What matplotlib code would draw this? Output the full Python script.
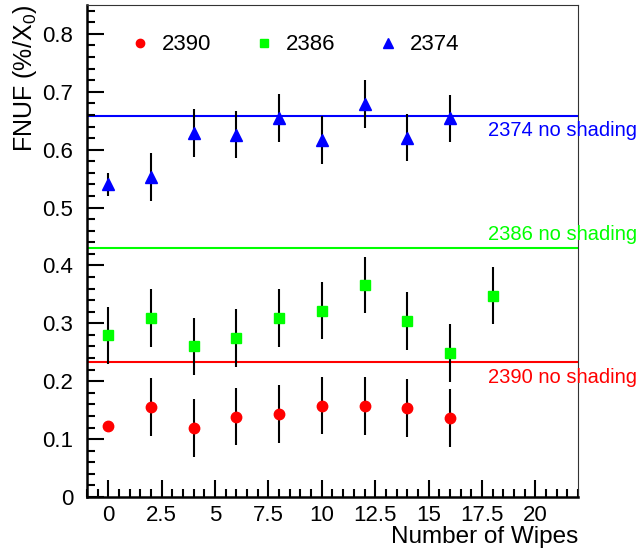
import matplotlib
matplotlib.use("Agg")
import matplotlib.pyplot as plt
from matplotlib.ticker import MultipleLocator, FormatStrFormatter

plt.rcParams['font.family'] = ['Liberation Sans', 'DejaVu Sans']
plt.rcParams['mathtext.fontset'] = 'custom'
plt.rcParams['mathtext.rm'] = 'Liberation Sans'

# run 2390 (red circles)
wipes_2390 = [0, 2, 4, 6, 8, 10, 12, 14, 16]
fnuf_2390 = [0.122, 0.155, 0.119, 0.139, 0.143, 0.158, 0.157, 0.153, 0.137]
err_2390 = [0.005, 0.050, 0.050, 0.050, 0.050, 0.050, 0.050, 0.050, 0.050]

# run 2386 (green squares)
wipes_2386 = [0, 2, 4, 6, 8, 10, 12, 14, 16, 18]
fnuf_2386 = [0.279, 0.309, 0.260, 0.274, 0.309, 0.322, 0.366, 0.304, 0.248, 0.348]
err_2386 = [0.050, 0.050, 0.050, 0.050, 0.050, 0.049, 0.049, 0.050, 0.050, 0.050]

# run 2374 (blue triangles)
wipes_2374 = [0, 2, 4, 6, 8, 10, 12, 14, 16]
fnuf_2374 = [0.540, 0.553, 0.629, 0.626, 0.655, 0.617, 0.679, 0.621, 0.654]
err_2374 = [0.020, 0.041, 0.041, 0.041, 0.041, 0.041, 0.041, 0.041, 0.041]

# no-shading reference levels
noshade_runs = ["2374", "2386", "2390"]
noshade_vals = [0.659, 0.430, 0.233]

fig = plt.figure(figsize=(6.41, 5.53), dpi=100)
ax = fig.add_axes([0.1357, 0.1013, 0.766, 0.8897])

series = [
    (wipes_2390, fnuf_2390, err_2390, "o", 7.5, "#ff0000", "2390"),
    (wipes_2386, fnuf_2386, err_2386, "s", 7.5, "#00ff00", "2386"),
    (wipes_2374, fnuf_2374, err_2374, "^", 8.5, "#0000ff", "2374"),
]
for x, y, e, m, ms, c, lab in series:
    ax.errorbar(x, y, yerr=e, fmt="none", ecolor="black", elinewidth=1.5,
                capsize=0, zorder=2)
    ax.plot(x, y, m, ms=ms, color=c, mec=c, ls="none", label=lab, zorder=3)

colors = {"2374": "#0000ff", "2386": "#00ff00", "2390": "#ff0000"}
offsets = {"2374": (-4, "top"), "2386": (6, "baseline"), "2390": (-4, "top")}
for run, val in zip(noshade_runs, noshade_vals):
    ax.axhline(val, color=colors[run], lw=1.5, zorder=1)
    dy, va = offsets[run]
    ax.annotate(run + " no shading", xy=(0.817, val),
                xycoords=(ax.transAxes, ax.transData),
                xytext=(0, dy), textcoords="offset points",
                va=va, ha="left", color=colors[run], fontsize=14.5,
                annotation_clip=False)

ax.set_xlim(-1, 22)
ax.set_ylim(0, 0.85)
ax.xaxis.set_major_locator(MultipleLocator(2.5))
ax.xaxis.set_minor_locator(MultipleLocator(0.5))
ax.xaxis.set_major_formatter(FormatStrFormatter("%g"))
ax.yaxis.set_major_locator(MultipleLocator(0.1))
ax.yaxis.set_minor_locator(MultipleLocator(0.02))
ax.yaxis.set_major_formatter(FormatStrFormatter("%g"))
ax.tick_params(which="both", direction="in", top=False, right=False,
               labelsize=16, width=1.5, color="black")
ax.tick_params(which="major", length=12)
ax.tick_params(which="minor", length=6)
ax.tick_params(axis="x", pad=6)
ax.tick_params(axis="y", pad=10)

for side in ["left", "bottom"]:
    ax.spines[side].set_linewidth(1.8)
for side in ["top", "right"]:
    ax.spines[side].set_linewidth(0.8)
    ax.spines[side].set_color("#333333")

ax.set_xlabel("Number of Wipes", loc="right", fontsize=17.5, labelpad=0)
ax.set_ylabel(r"FNUF (%/X$_0$)", loc="top", fontsize=18, labelpad=2)

ax.legend(loc="center left", bbox_to_anchor=(0.0855, 0.919), ncol=3,
          frameon=False, fontsize=16, markerscale=0.8, handlelength=1.0,
          handletextpad=0.5, columnspacing=1.85, borderpad=0,
          borderaxespad=0)

fig.savefig("out.png", dpi=100)
